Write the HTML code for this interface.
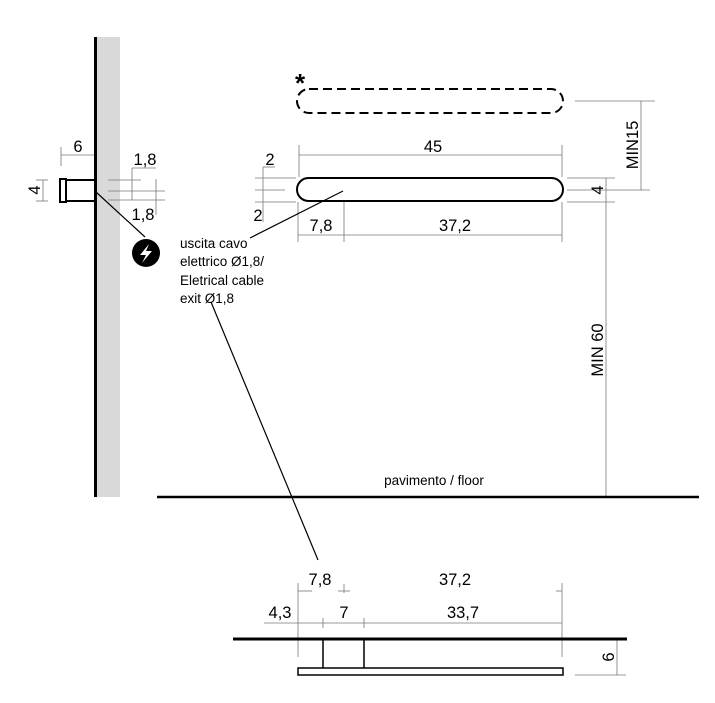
<!DOCTYPE html>
<html><head><meta charset="utf-8"><style>
html,body{margin:0;padding:0;background:#fff}
svg{display:block}
text{font-family:"Liberation Sans",sans-serif;fill:#000}
</style></head><body>
<svg width="715" height="703" viewBox="0 0 715 703" xmlns="http://www.w3.org/2000/svg">
<rect x="96" y="37" width="24" height="460" fill="#d9d9d9"/>
<line x1="95.5" y1="37" x2="95.5" y2="497" stroke="#000" stroke-width="3"/>
<rect x="60" y="179" width="6" height="23" fill="#fff" stroke="#000" stroke-width="2"/>
<line x1="66" y1="180" x2="95" y2="180" stroke="#000" stroke-width="2"/>
<line x1="66" y1="201" x2="95" y2="201" stroke="#000" stroke-width="2"/>
<g stroke="#777" stroke-width="0.8" fill="none">
<line x1="61" y1="147" x2="61" y2="166"/>
<line x1="61" y1="155" x2="94" y2="155"/>
<line x1="36" y1="180" x2="48" y2="180"/>
<line x1="36" y1="201" x2="48" y2="201"/>
<line x1="43" y1="180" x2="43" y2="201"/>
<line x1="108" y1="180" x2="141" y2="180"/>
<line x1="108" y1="191" x2="165" y2="191"/>
<line x1="108" y1="200" x2="165" y2="200"/>
<line x1="132" y1="168" x2="132" y2="200"/>
<line x1="132" y1="168" x2="156" y2="168"/>
<line x1="156" y1="179" x2="156" y2="215"/>
<line x1="299" y1="145" x2="299" y2="177"/>
<line x1="562" y1="145" x2="562" y2="177"/>
<line x1="299" y1="155" x2="562" y2="155"/>
<line x1="255" y1="178" x2="296" y2="178"/>
<line x1="255" y1="190" x2="285" y2="190"/>
<line x1="255" y1="202" x2="296" y2="202"/>
<line x1="263" y1="167" x2="263" y2="222"/>
<line x1="263" y1="167" x2="275" y2="167"/>
<line x1="298" y1="202" x2="298" y2="242"/>
<line x1="344" y1="202" x2="344" y2="242"/>
<line x1="562" y1="202" x2="562" y2="242"/>
<line x1="298" y1="235" x2="562" y2="235"/>
<line x1="575" y1="101" x2="655" y2="101"/>
<line x1="567" y1="190" x2="650" y2="190"/>
<line x1="567" y1="178" x2="615" y2="178"/>
<line x1="567" y1="202" x2="615" y2="202"/>
<line x1="641" y1="101" x2="641" y2="190"/>
<line x1="606" y1="178" x2="606" y2="497"/>
<line x1="298" y1="583" x2="298" y2="657"/>
<line x1="562" y1="583" x2="562" y2="657"/>
<line x1="264" y1="623" x2="562" y2="623"/>
<line x1="323" y1="618" x2="323" y2="628"/>
<line x1="364" y1="618" x2="364" y2="628"/>
<line x1="298" y1="591" x2="312" y2="591"/>
<line x1="338" y1="591" x2="350" y2="591"/>
<line x1="344" y1="584" x2="344" y2="593"/>
<line x1="556" y1="591" x2="562" y2="591"/>
<line x1="575" y1="675" x2="626" y2="675"/>
<line x1="617" y1="639" x2="617" y2="675"/>
</g>
<rect x="297" y="178" width="266" height="23" rx="11.5" fill="none" stroke="#000" stroke-width="2"/>
<rect x="297" y="89" width="266" height="24" rx="12" fill="none" stroke="#000" stroke-width="2" stroke-dasharray="9,5"/>
<text x="295" y="92" font-size="26" font-weight="bold">*</text>
<g stroke="#000" stroke-width="1.2">
<line x1="96" y1="192" x2="145" y2="237"/>
<line x1="343" y1="191" x2="250" y2="238"/>
<line x1="211" y1="302" x2="318" y2="560"/>
</g>
<line x1="157" y1="497" x2="699" y2="497" stroke="#000" stroke-width="2.5"/>
<text x="434" y="485" font-size="13.5" text-anchor="middle">pavimento / floor</text>
<circle cx="146" cy="253" r="14" fill="#000"/>
<path d="M149 244 L140 255 L146 255 L142 263 L152 251 L146 251 Z" fill="#fff"/>
<g font-size="13.5">
<text x="180" y="248">uscita cavo</text>
<text x="180" y="266">elettrico Ø1,8/</text>
<text x="180" y="285">Eletrical cable</text>
<text x="180" y="303">exit Ø1,8</text>
</g>
<line x1="233" y1="639" x2="627" y2="639" stroke="#000" stroke-width="3"/>
<rect x="298" y="668" width="265" height="7" fill="#fff" stroke="#000" stroke-width="1.5"/>
<line x1="323" y1="639" x2="323" y2="668" stroke="#000" stroke-width="1.5"/>
<line x1="364" y1="639" x2="364" y2="668" stroke="#000" stroke-width="1.5"/>
<g font-size="16.5">
<text x="78" y="152" text-anchor="middle">6</text>
<text x="145" y="165" text-anchor="middle">1,8</text>
<text x="143" y="220" text-anchor="middle">1,8</text>
<text x="433" y="152" text-anchor="middle">45</text>
<text x="270" y="165" text-anchor="middle">2</text>
<text x="258" y="221" text-anchor="middle">2</text>
<text x="321" y="231" text-anchor="middle">7,8</text>
<text x="455" y="231" text-anchor="middle">37,2</text>
<text x="320" y="585" text-anchor="middle">7,8</text>
<text x="455" y="585" text-anchor="middle">37,2</text>
<text x="280" y="618" text-anchor="middle">4,3</text>
<text x="344" y="618" text-anchor="middle">7</text>
<text x="463" y="618" text-anchor="middle">33,7</text>
<text transform="translate(40,190) rotate(-90)" text-anchor="middle">4</text>
<text transform="translate(603,190) rotate(-90)" text-anchor="middle">4</text>
<text transform="translate(638,145) rotate(-90)" text-anchor="middle">MIN15</text>
<text transform="translate(603,350) rotate(-90)" text-anchor="middle">MIN 60</text>
<text transform="translate(614,657) rotate(-90)" text-anchor="middle">6</text>
</g>
</svg>
</body></html>
